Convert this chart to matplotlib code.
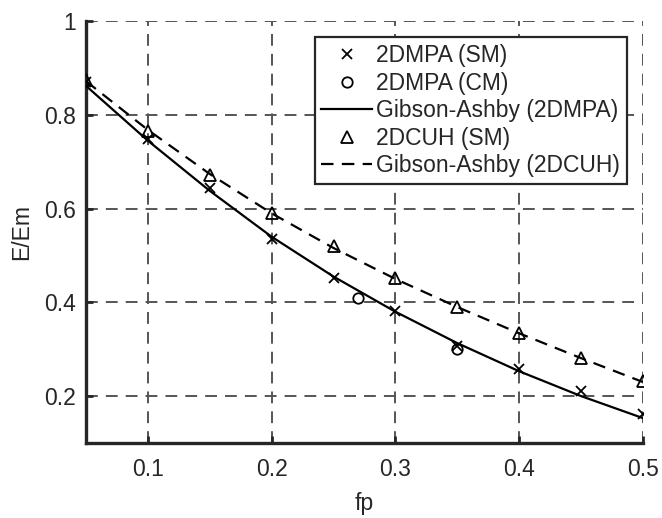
import matplotlib
matplotlib.use("Agg")
import matplotlib.pyplot as plt

plt.rcParams['font.family'] = ['Liberation Sans', 'DejaVu Sans']
plt.rcParams['lines.scale_dashes'] = False

# data
fp = [0.05, 0.10, 0.15, 0.20, 0.25, 0.30, 0.35, 0.40, 0.45, 0.50]
mpa_sm = [0.870, 0.748, 0.643, 0.535, 0.451, 0.381, 0.307, 0.257, 0.210, 0.162]
cm_fp = [0.27, 0.35]
mpa_cm = [0.409, 0.300]
cuh_sm = [0.875, 0.765, 0.672, 0.590, 0.520, 0.451, 0.391, 0.334, 0.282, 0.232]
ga_mpa = [0.862, 0.745, 0.638, 0.540, 0.455, 0.380, 0.313, 0.253, 0.200, 0.153]
ga_cuh = [0.872, 0.768, 0.674, 0.590, 0.516, 0.450, 0.390, 0.334, 0.281, 0.230]

xticks = [0.1, 0.2, 0.3, 0.4, 0.5]
yticks = [0.2, 0.4, 0.6, 0.8, 1.0]
ytick_labels = ['0.2', '0.4', '0.6', '0.8', '1']

FS = 16.5
TXT = '#262626'

fig = plt.figure(figsize=(6.62, 5.18), dpi=100)
ax = fig.add_axes([0.130, 0.145, 0.841, 0.814])

ax.plot(fp, mpa_sm, linestyle='none', marker='x', color='black', markersize=7.5,
        markeredgewidth=1.3, label='2DMPA (SM)', zorder=4)
ax.plot(cm_fp, mpa_cm, linestyle='none', marker='o', color='black', markersize=7.5,
        markerfacecolor='none', markeredgewidth=1.3, label='2DMPA (CM)', zorder=4)
ax.plot(fp, ga_mpa, '-', color='black', linewidth=1.6, label='Gibson-Ashby (2DMPA)', zorder=3)
ax.plot(fp, cuh_sm, linestyle='none', marker='^', color='black', markersize=8.5,
        markerfacecolor='none', markeredgewidth=1.3, label='2DCUH (SM)', zorder=4)
ax.plot(fp, ga_cuh, color='black', linewidth=1.6, linestyle=(0, (9, 6)),
        label='Gibson-Ashby (2DCUH)', zorder=3)

ax.set_xlim(0.05, 0.5)
ax.set_ylim(0.1, 1.0)
ax.set_xticks(xticks)
ax.set_xticklabels([f'{t:.1f}' for t in xticks])
ax.set_yticks(yticks)
ax.set_yticklabels(ytick_labels)

ax.grid(True, linestyle=(0, (8.5, 5.8)), color='#555555', linewidth=1.4)
ax.set_axisbelow(True)

for s in ['top', 'right']:
    ax.spines[s].set_visible(False)
for s in ['left', 'bottom']:
    ax.spines[s].set_linewidth(2.4)
    ax.spines[s].set_color(TXT)

ax.tick_params(direction='in', length=5, width=2, labelsize=FS, colors=TXT)
ax.tick_params(axis='x', pad=11)
ax.tick_params(axis='y', pad=7)
ax.set_xlabel('fp', fontsize=FS, color=TXT, labelpad=8)
ax.set_ylabel('E/Em', fontsize=FS, color=TXT, labelpad=8)

leg = ax.legend(loc='upper right', bbox_to_anchor=(0.972, 0.962), fontsize=FS,
                frameon=True, fancybox=False, edgecolor=TXT, framealpha=1,
                handlelength=2.2, handletextpad=0.2, borderpad=0.3,
                labelspacing=0.2, borderaxespad=0)
leg.get_frame().set_linewidth(1.6)
for t in leg.get_texts():
    t.set_color(TXT)

fig.savefig('out.png', dpi=100)
